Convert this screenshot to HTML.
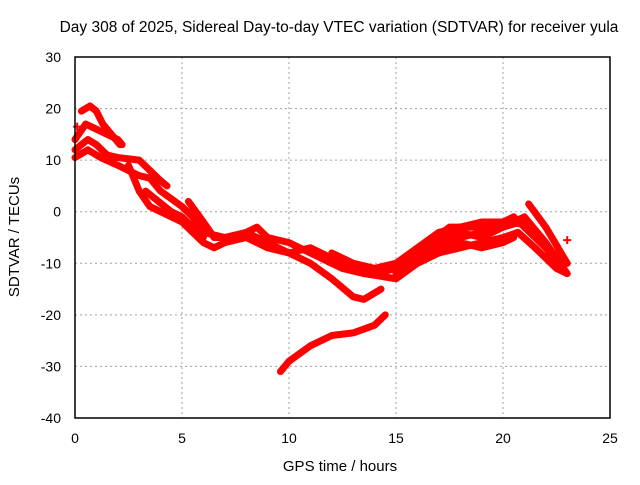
<!DOCTYPE html>
<html><head><meta charset="utf-8"><style>
body{margin:0;background:#fff}
text{font-family:"Liberation Sans",sans-serif;font-size:14px;fill:#000}
</style></head><body>
<svg id="chart" width="640" height="480" xmlns="http://www.w3.org/2000/svg">
<text x="339" y="32" text-anchor="middle" style="font-size:15.5px">Day 308 of 2025, Sidereal Day-to-day VTEC variation (SDTVAR) for receiver yula</text>
<text x="340" y="471" text-anchor="middle" style="font-size:15px">GPS time / hours</text>
<text transform="translate(19,237) rotate(-90)" text-anchor="middle" style="font-size:15px">SDTVAR / TECUs</text>
<g id="grid"></g><g id="series"></g><g id="axes"></g>
</svg>
<script>
const xTicks=[0,5,10,15,20,25];
const yTicks=[30,20,10,0,-10,-20,-30,-40];
const trackA=[[0.3,19.5],[0.7,20.5],[1.0,19.5],[1.3,17],[1.7,15],[2.1,13]];
const trackB=[[0,14],[0.5,17],[1.0,16],[1.5,15],[2.0,14],[2.2,13]];
const trackC=[[0,12],[0.6,14],[1.0,13],[1.5,11],[2,10.5],[3,10],[3.5,8],[4,6],[4.3,5]];
const trackD=[[0,10.5],[0.6,12],[1.2,10.5],[2,9],[3,7],[3.5,6.5],[4,4],[5,1],[5.5,-1],[6,-4],[7,-5],[8,-4],[9,-6],[10,-8],[11,-10],[12,-13],[13,-16.5],[13.5,-17],[14.3,-15]];
const trackE=[[2.5,9],[3,4],[3.5,1],[4,0],[4.5,-1],[5,-2],[5.5,-4],[6,-6],[6.5,-7],[7,-6],[8,-5],[9,-7],[10,-8],[11,-7],[12,-9],[13,-11],[14,-12],[15,-11],[16,-8],[17,-6],[18,-5],[19,-4],[20,-3],[21,-1],[22,-6],[23,-12]];
const trackF=[[5.3,2],[6,-2],[6.5,-5],[7.5,-5],[8.5,-3],[9,-5],[10,-6],[11,-8],[12,-10]];
const trackG=[[12,-8],[13,-10],[14,-11],[15,-10],[16,-7],[17,-4],[18,-3],[19,-2],[20,-2],[20.5,-1],[21,-3],[22,-7],[23,-10]];
const trackH=[[11.5,-9],[12.5,-11],[13.5,-12],[15,-13],[16,-10],[17,-8],[18,-7],[19,-6],[20,-5],[20.7,-4],[21.5,-7],[22.5,-11],[23,-12]];
const trackI=[[21.2,1.5],[22,-3],[23,-10]];
const trackJ=[[9.6,-31],[10,-29],[11,-26],[12,-24],[13,-23.5],[14,-22],[14.5,-20]];
const trackK=[[3.3,4],[4.5,0],[5,-1],[5.5,-3],[6,-5]];
const trackL=[[15,-12],[16,-9],[17,-5],[18,-4],[19,-5],[20,-3],[20.8,-2],[21.8,-6],[22.8,-11]];
const trackM=[[14.5,-11],[15.5,-10],[16.5,-6],[17.5,-3],[18.5,-3],[19.5,-3],[20.3,-2],[21,-2.5]];
const trackN=[[16,-9],[17,-7],[18,-6],[19,-7],[20,-6],[20.5,-5]];
const tracks=[trackA,trackB,trackC,trackD,trackE,trackF,trackG,trackH,trackI,trackJ,trackK,trackL,trackM,trackN];
const loneX=[23,0.1];const loneY=[-5.5,16.5];
const X0=75,X1=610,Y0=418,Y1=57;
function sx(h){return X0+(h-0)/(25-0)*(X1-X0);}
function sy(v){return Y0-(v+40)/70*(Y0-Y1);}
const NS="http://www.w3.org/2000/svg";
const grid=document.getElementById('grid'),ser=document.getElementById('series'),ax=document.getElementById('axes');
function mk(t,a,p){const e=document.createElementNS(NS,t);for(const k in a)e.setAttribute(k,a[k]);p.appendChild(e);return e;}
xTicks.forEach(t=>{
 const l=mk('line',{x1:sx(t),x2:sx(t),y1:Y1,y2:Y0,stroke:'#a0a0a0','stroke-dasharray':'2,3'},grid);
 
 
 const tx=mk('text',{x:sx(t),y:443,'text-anchor':'middle'},ax);tx.textContent=t;
 
 
});
yTicks.forEach(t=>{
 const l=mk('line',{x1:X0,x2:X1,y1:sy(t),y2:sy(t),stroke:'#a0a0a0','stroke-dasharray':'2,3'},grid);
 
 
 const tx=mk('text',{x:61,y:sy(t)+5,'text-anchor':'end'},ax);tx.textContent=t;
 
 
});
tracks.forEach(tr=>{
 const p=mk('polyline',{points:tr.map(d=>sx(d[0])+','+sy(d[1])).join(' '),fill:'none',stroke:'#ff0000','stroke-width':7,'stroke-linejoin':'round','stroke-linecap':'round'},ser);
 
 
});
loneX.forEach((x,i)=>{
 const p=mk('path',{d:`M${sx(x)-4},${sy(loneY[i])}h8M${sx(x)},${sy(loneY[i])-4}v8`,stroke:'#ff0000','stroke-width':2},ser);
 
 
});
const r=mk('rect',{x:X0,y:Y1,width:X1-X0,height:Y0-Y1,fill:'none',stroke:'#000','stroke-width':1.5},ax);


</script>
</body></html>
